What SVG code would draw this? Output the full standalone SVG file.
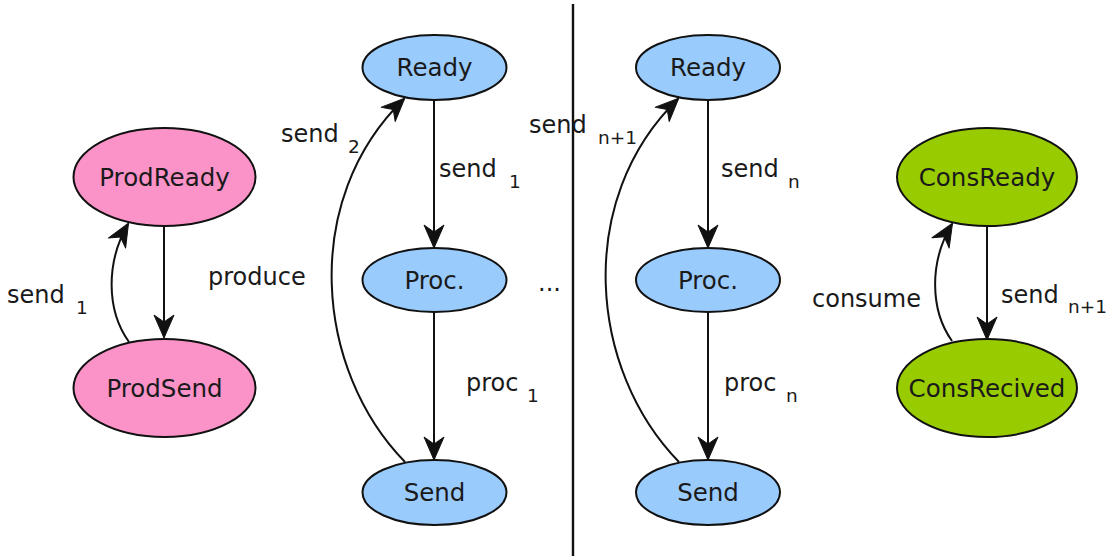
<svg xmlns="http://www.w3.org/2000/svg" width="1116" height="556" viewBox="0 0 1116 556">
<style>
.n{stroke:#111;stroke-width:2}
.pink{fill:#fb93c9}.blue{fill:#9acbfd}.green{fill:#99cc00}
text{font-family:"DejaVu Sans",Verdana,sans-serif;fill:#1a1a1a}
.nl{font-size:24.5px;text-anchor:middle}
.el{font-size:24px}
.sub{font-size:18.5px}
.e{fill:none;stroke:#111;stroke-width:2;marker-end:url(#ah)}
</style>
<defs>
<marker id="ah" markerUnits="userSpaceOnUse" markerWidth="26" markerHeight="24" viewBox="-24 -12 26 24" refX="0" refY="0" orient="auto">
<path d="M1,0 L-22,-10 L-15,0 L-22,10 Z" fill="#111" stroke="#111" stroke-width="1" stroke-linejoin="round"/>
</marker>
</defs>
<rect width="1116" height="556" fill="#fff"/>
<line x1="573" y1="4" x2="573" y2="556" stroke="#111" stroke-width="2.4"/>
<g id="connectors">
<path class="e" d="M164,227 L164,337"/>
<path class="e" d="M129,342 C106,310 106,262 128,224"/>
<path class="e" d="M434,100 L434,247"/>
<path class="e" d="M434,312 L434,459"/>
<path class="e" d="M405,462 C315,370 300,200 404,99"/>
<path class="e" d="M708,100 L708,247"/>
<path class="e" d="M708,312 L708,459"/>
<path class="e" d="M679,462 C589,370 574,200 678,99"/>
<path class="e" d="M987,226 L987,339"/>
<path class="e" d="M952,341 C930,310 929,262 952,224"/>
<text class="el" x="7" y="303">send</text><text class="sub" x="76" y="314">1</text>
<text class="el" x="208" y="285">produce</text>
<text class="el" x="281" y="142">send</text><text class="sub" x="348" y="153">2</text>
<text class="el" x="439" y="177">send</text><text class="sub" x="509" y="188">1</text>
<text class="el" x="466" y="391">proc</text><text class="sub" x="527" y="402">1</text>
<text class="el" x="538" y="291">...</text>
<text class="el" x="529" y="133">send</text><text class="sub" x="598" y="144">n+1</text>
<text class="el" x="721" y="177">send</text><text class="sub" x="788" y="188">n</text>
<text class="el" x="724" y="391">proc</text><text class="sub" x="786" y="402">n</text>
<text class="el" x="812" y="307">consume</text>
<text class="el" x="1001" y="303">send</text><text class="sub" x="1068" y="313">n+1</text>
</g>
<g id="ProdReady"><ellipse class="n pink" cx="164.5" cy="177" rx="91" ry="49"/><text class="nl" x="164.5" y="185.5">ProdReady</text></g>
<g id="ProdSend"><ellipse class="n pink" cx="164.5" cy="388" rx="91" ry="49"/><text class="nl" x="164.5" y="396.5">ProdSend</text></g>
<g id="Ready1"><ellipse class="n blue" cx="434.5" cy="67.5" rx="72" ry="32.5"/><text class="nl" x="434.5" y="76">Ready</text></g>
<g id="Proc1"><ellipse class="n blue" cx="434.5" cy="280" rx="72" ry="32"/><text class="nl" x="434.5" y="288.5">Proc.</text></g>
<g id="Send1"><ellipse class="n blue" cx="434.5" cy="492.5" rx="72" ry="32.5"/><text class="nl" x="434.5" y="501">Send</text></g>
<g id="ReadyN"><ellipse class="n blue" cx="708" cy="67.5" rx="72" ry="32.5"/><text class="nl" x="708" y="76">Ready</text></g>
<g id="ProcN"><ellipse class="n blue" cx="708" cy="280" rx="72" ry="32"/><text class="nl" x="708" y="288.5">Proc.</text></g>
<g id="SendN"><ellipse class="n blue" cx="708" cy="492.5" rx="72" ry="32.5"/><text class="nl" x="708" y="501">Send</text></g>
<g id="ConsReady"><ellipse class="n green" cx="987" cy="177" rx="90" ry="49"/><text class="nl" x="987" y="185.5">ConsReady</text></g>
<g id="ConsRecived"><ellipse class="n green" cx="987" cy="388" rx="90" ry="49"/><text class="nl" x="987" y="396.5">ConsRecived</text></g>
</svg>
